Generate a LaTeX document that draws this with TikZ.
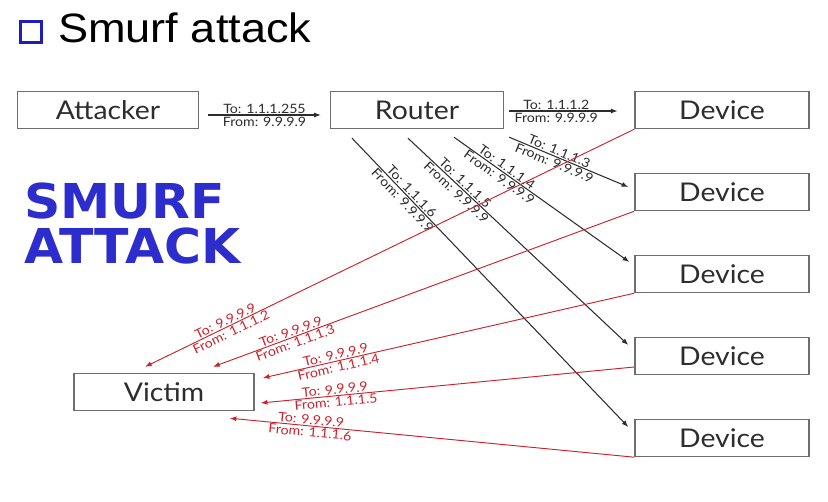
\documentclass[tikz,border=0pt]{standalone}
\usepackage{fontspec}
\setmainfont[FakeStretch=1.1]{Lato}
\newfontfamily\titlefont[FakeStretch=1.1]{Liberation Sans}
\newfontfamily\smurffont[FakeStretch=1.05]{DejaVu Sans}
\usetikzlibrary{arrows.meta,calc}

\definecolor{grisbox}{RGB}{110,110,110}
\definecolor{gristexto}{RGB}{45,45,45}
\definecolor{rojopaq}{RGB}{200,35,45}
\definecolor{azultitulo}{RGB}{30,30,190}
\definecolor{azulsmurf}{RGB}{45,45,205}

\tikzset{
  caja/.style={draw=grisbox, line width=1.2pt, minimum height=11.1mm, inner sep=0pt,
    text=gristexto, font=\fontsize{22}{24}\selectfont},
  paquete/.style={draw=gristexto, line width=0.9pt, -{Latex[length=2mm,width=1.5mm]}},
  respuesta/.style={draw=rojopaq, line width=0.8pt, -{Latex[length=2mm,width=1.5mm]}},
  etiqueta/.style={text=gristexto, inner sep=1pt, font=\fontsize{11}{12}\selectfont},
  etiquetaroja/.style={etiqueta, text=rojopaq}
}

\begin{document}
\begin{tikzpicture}[x=0.3mm, y=-0.3mm]
    \useasboundingbox (0,0) rectangle (828,502);
    % Título de la diapositiva
    \node[draw=azultitulo, line width=2.2pt, minimum size=6.3mm, inner sep=0pt] (cuadro) at (31,32) {};
    \node[anchor=base west, font=\titlefont\fontsize{35}{38}\selectfont] (titulo) at (54,43) {Smurf attack};
    % Letrero azul
    \node[anchor=north west, align=left, inner sep=0pt, text=azulsmurf,
      font=\smurffont\bfseries\fontsize{41}{38}\selectfont] (letrero) at (24,183) {SMURF\\ATTACK};
    % Cajas
    \node[caja, minimum width=54.3mm] (attacker) at (108,110) {Attacker};
    \node[caja, minimum width=51.9mm] (router) at (417,110) {Router};
    \node[caja, minimum width=52.2mm] (dev1) at (722,110) {Device};
    \node[caja, minimum width=52.2mm] (dev2) at (722,192) {Device};
    \node[caja, minimum width=52.2mm] (dev3) at (722,274) {Device};
    \node[caja, minimum width=52.2mm] (dev4) at (722,356) {Device};
    \node[caja, minimum width=52.2mm] (dev5) at (722,438) {Device};
    \node[caja, minimum width=54mm] (victim) at (164,392) {Victim};
    % Paquete del atacante al router
    \draw[paquete, shorten <=2.7mm, shorten >=2.7mm] ([yshift=-1.5mm]attacker.east) -- ([yshift=-1.5mm]router.west)
      node[etiqueta, above, midway] {To: 1.1.1.255}
      node[etiqueta, below, midway] {From: 9.9.9.9};
    % Paquetes del router a los equipos
    \draw[paquete, shorten <=1.5mm, shorten >=5mm] ([yshift=-0.3mm]router.east) -- ([yshift=-0.3mm]dev1.west)
      node[etiqueta, above, pos=0.4] {To: 1.1.1.2}
      node[etiqueta, below, pos=0.4] {From: 9.9.9.9};
    \draw[paquete] ($(router.south east)+(5,8)$) -- ($(dev2.west)+(-6,-5)$)
      node[etiqueta, sloped, above, pos=0.4] {To: 1.1.1.3}
      node[etiqueta, sloped, below, pos=0.4] {From: 9.9.9.9};
    \draw[paquete] ($(router.south)+(37,8)$) -- ($(dev3.west)+(-5,-12)$)
      node[etiqueta, sloped, above, pos=0.28] {To: 1.1.1.4}
      node[etiqueta, sloped, below, pos=0.28] {From: 9.9.9.9};
    \draw[paquete] ($(router.south)+(-9,9)$) -- ($(dev4.west)+(-6,-11)$)
      node[etiqueta, sloped, above, pos=0.24] {To: 1.1.1.5}
      node[etiqueta, sloped, below, pos=0.24] {From: 9.9.9.9};
    \draw[paquete] ($(router.south)+(-65,9)$) -- ($(dev5.west)+(-6,-11)$)
      node[etiqueta, sloped, above, pos=0.2] {To: 1.1.1.6}
      node[etiqueta, sloped, below, pos=0.2] {From: 9.9.9.9};
    % Respuestas de los equipos a la víctima
    \draw[respuesta] (dev1.south west) -- ($(victim.north)+(-19,-6)$)
      node[etiquetaroja, sloped, above, pos=0.83] {To: 9.9.9.9}
      node[etiquetaroja, sloped, below, pos=0.83] {From: 1.1.1.2};
    \draw[respuesta] (dev2.south west) -- ($(victim.north)+(49,-6)$)
      node[etiquetaroja, sloped, above, pos=0.81] {To: 9.9.9.9}
      node[etiquetaroja, sloped, below, pos=0.81] {From: 1.1.1.3};
    \draw[respuesta] (dev3.south west) -- ($(victim.east)+(8,-14)$)
      node[etiquetaroja, sloped, above, pos=0.8] {To: 9.9.9.9}
      node[etiquetaroja, sloped, below, pos=0.8] {From: 1.1.1.4};
    \draw[respuesta] ($(dev4.west)+(0,11)$) -- ($(victim.east)+(6,11)$)
      node[etiquetaroja, sloped, above, pos=0.8] {To: 9.9.9.9}
      node[etiquetaroja, sloped, below, pos=0.8] {From: 1.1.1.5};
    \draw[respuesta] (dev5.south west) -- ($(victim.south east)+(-25,7)$)
      node[etiquetaroja, sloped, above, pos=0.8] {To: 9.9.9.9}
      node[etiquetaroja, sloped, below, pos=0.8] {From: 1.1.1.6};
\end{tikzpicture}
\end{document}
